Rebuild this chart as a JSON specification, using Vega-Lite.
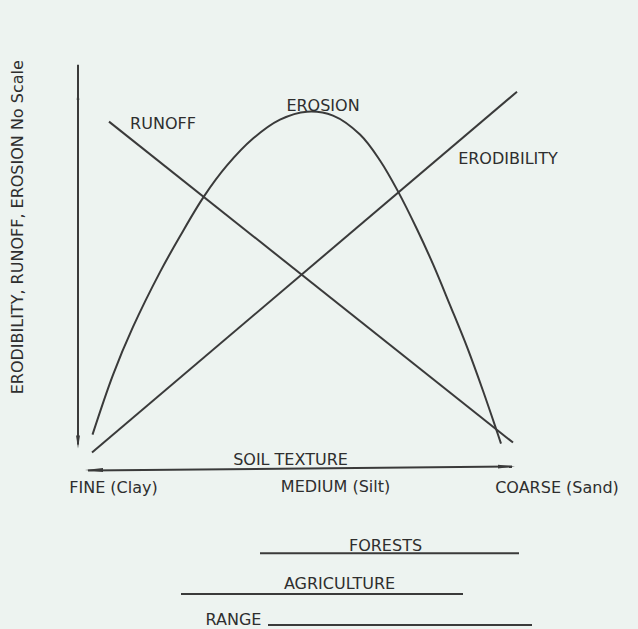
{
  "$schema": "https://vega.github.io/schema/vega-lite/v6.json",
  "width": 638,
  "height": 629,
  "autosize": {"type": "fit", "contains": "padding"},
  "padding": 0,
  "background": "#edf3f0",
  "config": {"view": {"stroke": null}},
  "datasets": {
    "lines": [
      {"series": "RUNOFF", "i": 0, "x": 109, "y": 122},
      {"series": "RUNOFF", "i": 1, "x": 513, "y": 444},
      {"series": "ERODIBILITY", "i": 0, "x": 92, "y": 454},
      {"series": "ERODIBILITY", "i": 1, "x": 517, "y": 92},
      {"series": "EROSION", "i": 0, "x": 92.5, "y": 436},
      {"series": "EROSION", "i": 1, "x": 113, "y": 376},
      {"series": "EROSION", "i": 2, "x": 133, "y": 328},
      {"series": "EROSION", "i": 3, "x": 160, "y": 273},
      {"series": "EROSION", "i": 4, "x": 180, "y": 237},
      {"series": "EROSION", "i": 5, "x": 204, "y": 197},
      {"series": "EROSION", "i": 6, "x": 227, "y": 166},
      {"series": "EROSION", "i": 7, "x": 253, "y": 139},
      {"series": "EROSION", "i": 8, "x": 280, "y": 120},
      {"series": "EROSION", "i": 9, "x": 307, "y": 112},
      {"series": "EROSION", "i": 10, "x": 333, "y": 116},
      {"series": "EROSION", "i": 11, "x": 360, "y": 135},
      {"series": "EROSION", "i": 12, "x": 380, "y": 161},
      {"series": "EROSION", "i": 13, "x": 398, "y": 192},
      {"series": "EROSION", "i": 14, "x": 417, "y": 230},
      {"series": "EROSION", "i": 15, "x": 433, "y": 265},
      {"series": "EROSION", "i": 16, "x": 450, "y": 306},
      {"series": "EROSION", "i": 17, "x": 467, "y": 348},
      {"series": "EROSION", "i": 18, "x": 483, "y": 392},
      {"series": "EROSION", "i": 19, "x": 497, "y": 433},
      {"series": "EROSION", "i": 20, "x": 501, "y": 445},
      {"series": "yaxis", "i": 0, "x": 78, "y": 65},
      {"series": "yaxis", "i": 1, "x": 78, "y": 446},
      {"series": "xaxis", "i": 0, "x": 88, "y": 472},
      {"series": "xaxis", "i": 1, "x": 512, "y": 468},
      {"series": "FORESTS", "i": 0, "x": 260, "y": 555},
      {"series": "FORESTS", "i": 1, "x": 519, "y": 555},
      {"series": "AGRICULTURE", "i": 0, "x": 181, "y": 596},
      {"series": "AGRICULTURE", "i": 1, "x": 463, "y": 596},
      {"series": "RANGE", "i": 0, "x": 268, "y": 627},
      {"series": "RANGE", "i": 1, "x": 532, "y": 627}
    ],
    "heads": [
      {"dir": "up", "x": 78, "y": 96},
      {"dir": "down", "x": 78, "y": 443.5},
      {"dir": "left", "x": 94, "y": 471.5},
      {"dir": "right", "x": 506.5, "y": 468}
    ],
    "labels": [
      {"label": "RUNOFF", "x": 163, "y": 124.5},
      {"label": "EROSION", "x": 323, "y": 106.5},
      {"label": "ERODIBILITY", "x": 508, "y": 159.5},
      {"label": "SOIL TEXTURE", "x": 290.5, "y": 461.5},
      {"label": "FINE (Clay)", "x": 113.5, "y": 490},
      {"label": "MEDIUM (Silt)", "x": 335.5, "y": 489},
      {"label": "COARSE (Sand)", "x": 557, "y": 489.5},
      {"label": "FORESTS", "x": 385.5, "y": 547.5},
      {"label": "AGRICULTURE", "x": 339.5, "y": 586},
      {"label": "RANGE", "x": 233.5, "y": 621.5}
    ],
    "title": [
      {"label": "ERODIBILITY, RUNOFF, EROSION No Scale", "x": 17.5, "y": 228}
    ]
  },
  "encoding": {
    "x": {"field": "x", "type": "quantitative", "scale": {"domain": [0, 638], "nice": false, "zero": false}, "axis": null},
    "y": {"field": "y", "type": "quantitative", "scale": {"domain": [0, 629], "nice": false, "zero": false, "reverse": true}, "axis": null}
  },
  "layer": [
    {
      "data": {"name": "lines"},
      "mark": {"type": "line", "color": "#3a3a3a", "strokeWidth": 2, "interpolate": "catmull-rom"},
      "encoding": {
        "detail": {"field": "series", "type": "nominal"},
        "order": {"field": "i", "type": "quantitative"}
      }
    },
    {
      "data": {"name": "heads"},
      "transform": [{"filter": "datum.dir === 'up'"}],
      "mark": {"type": "point", "filled": true, "color": "#3a3a3a", "opacity": 1, "size": 64, "shape": "M0,-1L0.35,1L-0.35,1Z"}
    },
    {
      "data": {"name": "heads"},
      "transform": [{"filter": "datum.dir === 'down'"}],
      "mark": {"type": "point", "filled": true, "color": "#3a3a3a", "opacity": 1, "size": 169, "shape": "M0,1L0.3,-1L-0.3,-1Z"}
    },
    {
      "data": {"name": "heads"},
      "transform": [{"filter": "datum.dir === 'left'"}],
      "mark": {"type": "point", "filled": true, "color": "#3a3a3a", "opacity": 1, "size": 324, "shape": "M-1,0L1,-0.22L1,0.22Z"}
    },
    {
      "data": {"name": "heads"},
      "transform": [{"filter": "datum.dir === 'right'"}],
      "mark": {"type": "point", "filled": true, "color": "#3a3a3a", "opacity": 1, "size": 289, "shape": "M1,0L-1,-0.22L-1,0.22Z"}
    },
    {
      "data": {"name": "labels"},
      "mark": {"type": "text", "font": "DejaVu Sans", "fontSize": 16, "color": "#2e2e2e", "align": "center", "baseline": "middle"},
      "encoding": {"text": {"field": "label", "type": "nominal"}}
    },
    {
      "data": {"name": "title"},
      "mark": {"type": "text", "font": "DejaVu Sans", "fontSize": 16, "color": "#2e2e2e", "align": "center", "baseline": "middle", "angle": 270},
      "encoding": {"text": {"field": "label", "type": "nominal"}}
    }
  ]
}
